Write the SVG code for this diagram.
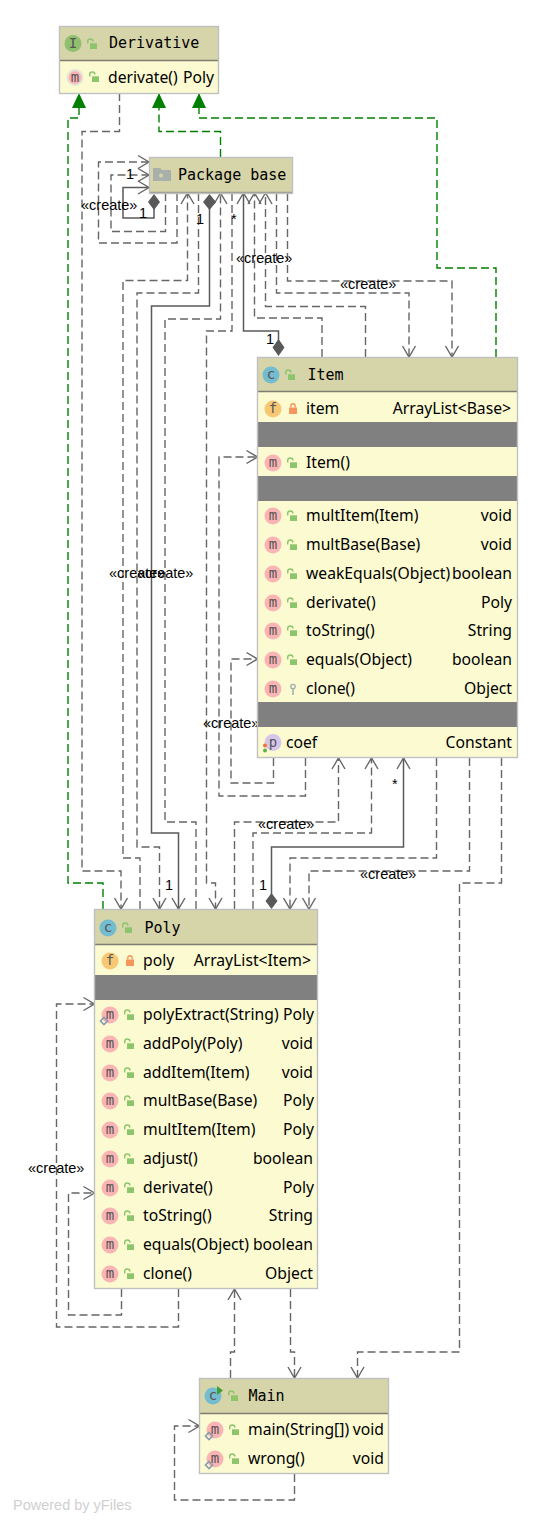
<svg xmlns="http://www.w3.org/2000/svg" xmlns:xlink="http://www.w3.org/1999/xlink" width="543" height="1525" viewBox="0 0 543 1525">
<style>
.hd{fill:#d6d4a9}.bd{fill:#fcfad1}.gr{fill:#808080}
.bx{fill:none;stroke:#c0c0c0;stroke-width:1.4}
.sep{stroke:#7d7d72;stroke-width:1.4}
.t{font-family:"Noto Sans","Open Sans",sans-serif;font-size:15.7px;fill:#000}
.r{text-anchor:end}
.h{font-family:"DejaVu Sans Mono","Liberation Mono",monospace;font-size:15px;fill:#000}
.i{font-family:"DejaVu Sans Mono","Liberation Mono",monospace;font-size:14px;fill:#555;text-anchor:middle}
.m{fill:#fbb4b4}.c{fill:#74bccf}.f{fill:#f6c873}.p{fill:#d6c6ec}.n{fill:#8fbf6f}
.l{font-family:"Liberation Sans",Arial,sans-serif;font-size:14.5px;fill:#000}
.d{fill:none;stroke:#666;stroke-width:1.4;stroke-dasharray:8 4}
.s{fill:none;stroke:#5a5a5a;stroke-width:1.5}
.g{fill:none;stroke:#008000;stroke-width:1.4;stroke-dasharray:8 4}
.ao{marker-end:url(#open)}.at{marker-end:url(#tri)}
.dm{fill:#595959}
</style>
<defs>
<marker id="open" markerUnits="userSpaceOnUse" markerWidth="16" markerHeight="16" refX="13" refY="8" orient="auto"><path d="M2 1.5L13 8L2 14.5" fill="none" stroke="#666" stroke-width="1.4"/></marker>
<marker id="tri" markerUnits="userSpaceOnUse" markerWidth="16" markerHeight="16" refX="15" refY="8" orient="auto"><path d="M0 1L15 8L0 15Z" fill="#008000"/></marker>
<g id="un"><path d="M0.7 4.5V2.6a2.6 2.6 0 0 1 5.2 0" fill="none" stroke="#8cc56b" stroke-width="1.4"/><rect x="3" y="4.3" width="7" height="5.7" fill="#8cc56b"/></g>
<g id="lk"><path d="M1.8 4.5V3a2.2 2.2 0 0 1 4.4 0V4.5" fill="none" stroke="#f4965c" stroke-width="1.4"/><rect x="0" y="4.5" width="8" height="6.5" fill="#f4965c"/></g>
<g id="bg"><path d="M0 -3.5L3.5 0L0 3.5L-3.5 0Z" fill="none" stroke="#8a9bb0" stroke-width="1.6"/></g>
</defs>
<rect width="543" height="1525" fill="#fff"/>

<g id="connectors">
<path class="g at" d="M103 909V883H68V118H79V93"/>
<path class="g at" d="M220.500 157V131.500H159V93"/>
<path class="g at" d="M496 357V268H437V118H199V93"/>
<path class="d ao" d="M119.500 93V131.500H82V871H121V909"/>
<path class="d ao" d="M177 193V243H98.500V162H149"/>
<path class="d ao" d="M165.500 193V231.500H111V175H149"/>
<path class="s ao" d="M154 205V218H123V187.500H149"/>
<path class="d ao" d="M140 909V858H123V280.500H187.500V193"/>
<path class="d ao" d="M198.500 193V293H137V847H159.500V909"/>
<path class="s ao" d="M209.500 205V306H151.500V833H178.500V909"/>
<path class="d ao" d="M196 909V822H165V319H220.500V193"/>
<path class="d ao" d="M232 193V331H206.500V883H215.500V909"/>
<path class="s ao" d="M278.500 345V331H243.500V193"/>
<path class="d ao" d="M322 357V318H254.500V193"/>
<path class="d ao" d="M365.500 357V306.500H265.500V193"/>
<path class="d ao" d="M276.500 193V293H409V357"/>
<path class="d ao" d="M287.500 193V281H452V357"/>
<path class="d ao" d="M273.500 758V783H231V659H257.500"/>
<path class="d ao" d="M305.500 758V796H219V457H257.500"/>
<path class="d ao" d="M234.500 909V822H338.500V758"/>
<path class="d ao" d="M253 909V833H371.500V758"/>
<path class="s ao" d="M271.500 895V847H403.500V758"/>
<path class="d ao" d="M436.500 758V858H290V909"/>
<path class="d ao" d="M469.500 758V871H309V909"/>
<path class="d ao" d="M501.500 758V883H459.500V1352H357.500V1378"/>
<path class="d ao" d="M121.500 1289V1315H68.500V1193H94.500"/>
<path class="d ao" d="M178.500 1289V1327H56.500V1004H94.500"/>
<path class="d ao" d="M290.500 1289V1352H294.500V1378"/>
<path class="d ao" d="M230.500 1378V1352H234.500V1289"/>
<path class="d ao" d="M294.500 1474V1500H174.500V1426H199.500"/>
<path class="dm" d="M154 194L160 202L154 210L148 202Z"/>
<path class="dm" d="M209.500 194L216 202L209.500 210L203 202Z"/>
<path class="dm" d="M278.500 339L284.500 347.500L278.500 356L272.500 347.500Z"/>
<path class="dm" d="M271.500 893L277.500 901L271.500 909L265.500 901Z"/>
<text class="l" x="81" y="210">«create»</text>
<text class="l" x="126" y="179">1</text>
<text class="l" x="139" y="218">1</text>
<text class="l" x="196" y="224">1</text>
<text class="l" x="231" y="224">*</text>
<text class="l" x="236" y="263">«create»</text>
<text class="l" x="340" y="289">«create»</text>
<text class="l" x="266" y="344">1</text>
<text class="l" x="109" y="578">«create»</text>
<text class="l" x="137" y="578">«create»</text>
<text class="l" x="203" y="728">«create»</text>
<text class="l" x="258" y="829">«create»</text>
<text class="l" x="360" y="879">«create»</text>
<text class="l" x="392" y="789">*</text>
<text class="l" x="165" y="890">1</text>
<text class="l" x="259" y="890">1</text>
<text class="l" x="28" y="1173">«create»</text>
</g>

<g id="node-derivative">
<rect class="hd" x="59.500" y="26.500" width="159" height="34"/>
<rect class="bd" x="59.500" y="60.500" width="159" height="33"/>
<path class="sep" d="M60 60.500H218"/>
<rect class="bx" x="59.500" y="26.500" width="159" height="67"/>
<circle class="n" cx="73" cy="43.500" r="8.500"/><text class="i" x="73" y="47.500">I</text>
<use href="#un" x="87" y="39"/>
<text class="h" x="109" y="48">Derivative</text>
<circle cx="75" cy="77.500" r="8.500" fill="#e6e6d8"/><circle class="m" cx="75" cy="77.500" r="6.500"/><text class="i" x="75" y="81.500">m</text>
<use href="#un" x="89" y="72"/>
<text class="t" x="108" y="83">derivate()</text>
<text class="t r" x="214" y="83">Poly</text>
</g>

<g id="node-package-base">
<rect class="hd" x="149.500" y="157.500" width="143" height="36"/>
<path d="M149.500 192.500H292.500" stroke="#9a9a90" stroke-width="1.400"/>
<rect class="bx" x="149.500" y="157.500" width="143" height="36"/>
<path d="M153 168H160L162 170H171V181H153Z" fill="#a9b0ac"/><circle cx="161" cy="175.500" r="2" fill="#d6d4a9"/>
<text class="h" x="178" y="180">Package base</text>
</g>

<g id="node-item">
<rect class="hd" x="257.500" y="357.500" width="260" height="34"/>
<rect class="bd" x="257.500" y="391.500" width="260" height="366"/>
<rect class="gr" x="258" y="422" width="259" height="25"/>
<rect class="gr" x="258" y="476" width="259" height="25"/>
<rect class="gr" x="258" y="702" width="259" height="25"/>
<path class="sep" d="M258 391.500H517"/>
<rect class="bx" x="257.500" y="357.500" width="260" height="400"/>
<circle class="c" cx="271" cy="375" r="8.500"/><text class="i" x="271" y="379">c</text>
<use href="#un" x="285" y="370"/>
<text class="h" x="307.500" y="380">Item</text>
<circle class="f" cx="273" cy="409" r="8.500"/><text class="i" x="273" y="413">f</text>
<use href="#lk" x="289" y="403"/>
<text class="t" x="306" y="414">item</text>
<text class="t r" x="511" y="414">ArrayList&lt;Base&gt;</text>
<circle class="m" cx="273" cy="463" r="8.500"/><text class="i" x="273" y="467">m</text>
<use href="#un" x="287" y="458"/>
<text class="t" x="306" y="468">Item()</text>
<circle class="m" cx="273" cy="516" r="8.500"/><text class="i" x="273" y="520">m</text>
<use href="#un" x="287" y="511"/>
<text class="t" x="306" y="521">multItem(Item)</text>
<text class="t r" x="512" y="521">void</text>
<circle class="m" cx="273" cy="545" r="8.500"/><text class="i" x="273" y="549">m</text>
<use href="#un" x="287" y="540"/>
<text class="t" x="306" y="550">multBase(Base)</text>
<text class="t r" x="512" y="550">void</text>
<circle class="m" cx="273" cy="574" r="8.500"/><text class="i" x="273" y="578">m</text>
<use href="#un" x="287" y="569"/>
<text class="t" x="306" y="579">weakEquals(Object)</text>
<text class="t r" x="512" y="579">boolean</text>
<circle class="m" cx="273" cy="603" r="8.500"/><text class="i" x="273" y="607">m</text>
<use href="#un" x="287" y="598"/>
<text class="t" x="306" y="608">derivate()</text>
<text class="t r" x="512" y="608">Poly</text>
<circle class="m" cx="273" cy="631" r="8.500"/><text class="i" x="273" y="635">m</text>
<use href="#un" x="287" y="626"/>
<text class="t" x="306" y="636">toString()</text>
<text class="t r" x="512" y="636">String</text>
<circle class="m" cx="273" cy="660" r="8.500"/><text class="i" x="273" y="664">m</text>
<use href="#un" x="287" y="655"/>
<text class="t" x="306" y="665">equals(Object)</text>
<text class="t r" x="512" y="665">boolean</text>
<circle class="m" cx="273" cy="689" r="8.500"/><text class="i" x="273" y="693">m</text>
<circle cx="293" cy="686.500" r="2.200" fill="none" stroke="#a0aeb0" stroke-width="1.300"/><path d="M293 689V695" stroke="#a0aeb0" stroke-width="1.500"/>
<text class="t" x="306" y="694">clone()</text>
<text class="t r" x="512" y="694">Object</text>
<circle class="p" cx="273" cy="742.500" r="8.500"/><text class="i" x="273" y="746.500">p</text>
<circle cx="265" cy="745.500" r="2" fill="#f0743c"/><circle cx="265" cy="750.500" r="2" fill="#5fb04a"/>
<text class="t" x="286" y="748">coef</text>
<text class="t r" x="512" y="748">Constant</text>
</g>

<g id="node-poly">
<rect class="hd" x="94.500" y="909.500" width="223" height="35"/>
<rect class="bd" x="94.500" y="944.500" width="223" height="344"/>
<rect class="gr" x="95" y="975" width="222" height="25"/>
<path class="sep" d="M95 944.500H317"/>
<rect class="bx" x="94.500" y="909.500" width="223" height="379"/>
<circle class="c" cx="108" cy="928" r="8.500"/><text class="i" x="108" y="932">c</text>
<use href="#un" x="122" y="923"/>
<text class="h" x="144.500" y="933">Poly</text>
<circle class="f" cx="110" cy="961" r="8.500"/><text class="i" x="110" y="965">f</text>
<use href="#lk" x="126" y="955"/>
<text class="t" x="143" y="966">poly</text>
<text class="t r" x="311" y="966">ArrayList&lt;Item&gt;</text>
<circle class="m" cx="110" cy="1015" r="8.500"/><text class="i" x="110" y="1019">m</text>
<use href="#bg" x="104" y="1021"/>
<use href="#un" x="124" y="1010"/>
<text class="t" x="143" y="1020">polyExtract(String)</text>
<text class="t r" x="314" y="1020">Poly</text>
<circle class="m" cx="110" cy="1044" r="8.500"/><text class="i" x="110" y="1048">m</text>
<use href="#un" x="124" y="1039"/>
<text class="t" x="143" y="1049">addPoly(Poly)</text>
<text class="t r" x="313" y="1049">void</text>
<circle class="m" cx="110" cy="1073" r="8.500"/><text class="i" x="110" y="1077">m</text>
<use href="#un" x="124" y="1068"/>
<text class="t" x="143" y="1078">addItem(Item)</text>
<text class="t r" x="313" y="1078">void</text>
<circle class="m" cx="110" cy="1101" r="8.500"/><text class="i" x="110" y="1105">m</text>
<use href="#un" x="124" y="1096"/>
<text class="t" x="143" y="1106">multBase(Base)</text>
<text class="t r" x="314" y="1106">Poly</text>
<circle class="m" cx="110" cy="1130" r="8.500"/><text class="i" x="110" y="1134">m</text>
<use href="#un" x="124" y="1125"/>
<text class="t" x="143" y="1135">multItem(Item)</text>
<text class="t r" x="314" y="1135">Poly</text>
<circle class="m" cx="110" cy="1159" r="8.500"/><text class="i" x="110" y="1163">m</text>
<use href="#un" x="124" y="1154"/>
<text class="t" x="143" y="1164">adjust()</text>
<text class="t r" x="313" y="1164">boolean</text>
<circle class="m" cx="110" cy="1188" r="8.500"/><text class="i" x="110" y="1192">m</text>
<use href="#un" x="124" y="1183"/>
<text class="t" x="143" y="1193">derivate()</text>
<text class="t r" x="314" y="1193">Poly</text>
<circle class="m" cx="110" cy="1216" r="8.500"/><text class="i" x="110" y="1220">m</text>
<use href="#un" x="124" y="1211"/>
<text class="t" x="143" y="1221">toString()</text>
<text class="t r" x="313" y="1221">String</text>
<circle class="m" cx="110" cy="1245" r="8.500"/><text class="i" x="110" y="1249">m</text>
<use href="#un" x="124" y="1240"/>
<text class="t" x="143" y="1250">equals(Object)</text>
<text class="t r" x="313" y="1250">boolean</text>
<circle class="m" cx="110" cy="1274" r="8.500"/><text class="i" x="110" y="1278">m</text>
<use href="#un" x="124" y="1269"/>
<text class="t" x="143" y="1279">clone()</text>
<text class="t r" x="313" y="1279">Object</text>
</g>

<g id="node-main">
<rect class="hd" x="199.500" y="1378.500" width="189" height="35"/>
<rect class="bd" x="199.500" y="1413.500" width="189" height="60"/>
<path class="sep" d="M200 1413.500H388"/>
<rect class="bx" x="199.500" y="1378.500" width="189" height="95"/>
<circle class="c" cx="213" cy="1396" r="8.500"/><text class="i" x="213" y="1400">c</text>
<path d="M217 1386L223 1390.500L217 1395Z" fill="#3ea02e"/>
<use href="#un" x="228" y="1391"/>
<text class="h" x="248.500" y="1401">Main</text>
<circle class="m" cx="215" cy="1430" r="8.500"/><text class="i" x="215" y="1434">m</text>
<use href="#bg" x="209" y="1436"/>
<use href="#un" x="229" y="1425"/>
<text class="t" x="248" y="1435">main(String[])</text>
<text class="t r" x="384" y="1435">void</text>
<circle class="m" cx="215" cy="1459" r="8.500"/><text class="i" x="215" y="1463">m</text>
<use href="#bg" x="209" y="1465"/>
<use href="#un" x="229" y="1454"/>
<text class="t" x="248" y="1464">wrong()</text>
<text class="t r" x="384" y="1464">void</text>
</g>

<text x="13" y="1510" font-family="'Liberation Sans',Arial,sans-serif" font-size="14.500" fill="#d0d0d0">Powered by yFiles</text>
</svg>
